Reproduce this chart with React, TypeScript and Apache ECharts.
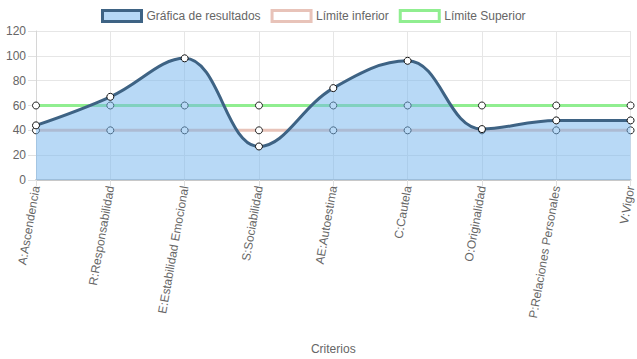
import React, { useEffect, useRef } from "react";
import * as echarts from "echarts";

const categories = [
  "A:Ascendencia",
  "R:Responsabilidad",
  "E:Estabilidad Emocional",
  "S:Sociabilidad",
  "AE:Autoestima",
  "C:Cautela",
  "O:Originalidad",
  "P:Relaciones Personales",
  "V:Vigor",
];
const resultados = [44, 67, 98, 27, 74, 96, 41, 48, 48];
const limiteInferior = [40, 40, 40, 40, 40, 40, 40, 40, 40];
const limiteSuperior = [60, 60, 60, 60, 60, 60, 60, 60, 60];

const FONT = "Liberation Sans, Arial, Helvetica, sans-serif";
const TXT = "#666666";

export default function App() {
  const ref = useRef<HTMLDivElement>(null);
  useEffect(() => {
    if (!ref.current) return;
    const chart = echarts.init(ref.current, undefined, { renderer: "svg" });
    const sym = {
      symbol: "circle",
      symbolSize: 7,
      showAllSymbol: true,
    };
    chart.setOption({
      animation: false,
      textStyle: { fontFamily: FONT },
      legend: {
        top: 9,
        left: 101,
        padding: 0,
        itemWidth: 39,
        itemHeight: 11,
        itemGap: 10,
        icon: "rect",
        textStyle: { fontSize: 12, color: TXT, fontFamily: FONT },
        data: [
          {
            name: "Gráfica de resultados",
            itemStyle: { color: "#b6d8f6", borderColor: "#3e6384", borderWidth: 3 },
          },
          {
            name: "Límite inferior",
            itemStyle: { color: "#ffffff", borderColor: "#e8c3b9", borderWidth: 3 },
          },
          {
            name: "Límite Superior",
            itemStyle: { color: "#ffffff", borderColor: "#90ee90", borderWidth: 3 },
          },
        ],
      },
      grid: { left: 36, right: 3, top: 31, bottom: 179, containLabel: false },
      xAxis: {
        type: "category",
        data: categories,
        boundaryGap: false,
        name: "Criterios",
        nameLocation: "middle",
        nameGap: 163,
        nameTextStyle: { fontSize: 12, color: TXT, fontFamily: FONT },
        axisLine: { show: true, lineStyle: { color: "#c8c8c8", width: 2 } },
        axisTick: { show: true, length: 6, lineStyle: { color: "#e0e0e0" } },
        axisLabel: {
          rotate: 80,
          fontSize: 12,
          color: TXT,
          fontFamily: FONT,
          margin: 6,
          interval: 0,
        },
        splitLine: { show: true, lineStyle: { color: "#e6e6e6" } },
      },
      yAxis: {
        type: "value",
        min: 0,
        max: 120,
        interval: 20,
        axisLine: { show: true, lineStyle: { color: "#d6d6d6" } },
        axisTick: { show: true, length: 8, lineStyle: { color: "#e0e0e0" } },
        axisLabel: { fontSize: 12, color: TXT, fontFamily: FONT, margin: 10 },
        splitLine: { show: true, lineStyle: { color: "#e6e6e6" } },
      },
      series: [
        {
          name: "Límite inferior",
          type: "line",
          data: limiteInferior,
          z: 1,
          ...sym,
          lineStyle: { color: "#e8c3b9", width: 3 },
          itemStyle: { color: "#ffffff", borderColor: "#222222", borderWidth: 1 },
        },
        {
          name: "Límite Superior",
          type: "line",
          data: limiteSuperior,
          z: 1,
          ...sym,
          lineStyle: { color: "#90ee90", width: 3 },
          itemStyle: { color: "#ffffff", borderColor: "#222222", borderWidth: 1 },
        },
        {
          name: "Gráfica de resultados",
          type: "line",
          data: resultados,
          z: 3,
          smooth: 0.4,
          ...sym,
          lineStyle: { color: "#3e6384", width: 3 },
          itemStyle: { color: "#ffffff", borderColor: "#111111", borderWidth: 1 },
          areaStyle: { color: "rgba(113,179,237,0.5)", opacity: 1, origin: "start" },
        },
      ],
    });
    return () => chart.dispose();
  }, []);
  return (
    <div
      ref={ref}
      style={{ position: "absolute", left: 0, top: 0, width: 637, height: 359 }}
    />
  );
}
